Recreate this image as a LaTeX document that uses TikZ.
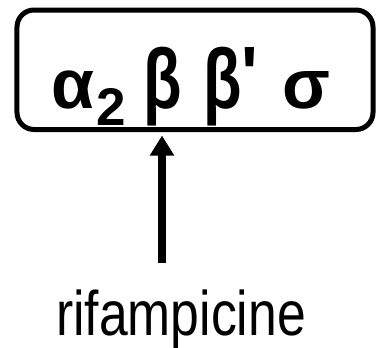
\documentclass[tikz,border=0pt]{standalone}
\usepackage{fontspec}
\setmainfont{Liberation Sans}
\newfontfamily\greekfont{Liberation Sans}
\usetikzlibrary{arrows.meta}
\tikzset{
  boxstyle/.style={draw=black, line width=5pt, rounded corners=17pt, minimum width=356pt, minimum height=119.5pt, inner sep=0pt},
  greek/.style={anchor=base west, inner sep=0pt, font=\fontsize{70}{70}\greekfont\bfseries},
  subs/.style={anchor=base west, inner sep=0pt, font=\fontsize{53}{53}\greekfont\bfseries},
  label/.style={anchor=base, inner sep=0pt, font=\fontsize{63}{63}\selectfont},
  arr/.style={line width=8.3pt, -{Triangle[width=23pt,length=20pt]}}
}
\begin{document}
\begin{tikzpicture}[x=1pt,y=-1pt]
\useasboundingbox (0,0) rectangle (376,348);
\node[boxstyle] (box) at (195,69.75) {};
\node[greek] (alpha) at (51,108) {α};
\node[subs] (two) at (96,125) {2};
\node[greek] (beta1) at (143,108) {\scalebox{0.9}[1.21]{β}};
\node[greek] (beta2) at (203,108) {\scalebox{0.9}[1.21]{β}};
\node[greek, anchor=base west] (prime) at (241,100) {\scalebox{1}[1.1]{'}};
\node[greek] (sigma) at (282,108) {σ};
\node[label] (rif) at (181,335) {\scalebox{0.82}[1]{rifampicine}};
\coordinate (s) at (162,263);
\draw[arr] (s) -- ([yshift=-3.5pt]s |- box.south);
\end{tikzpicture}
\end{document}
